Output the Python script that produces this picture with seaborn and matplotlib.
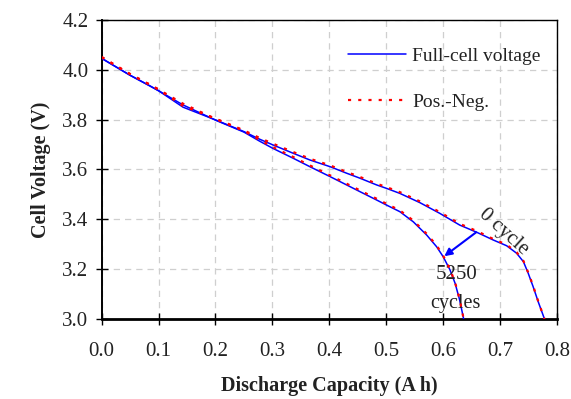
import matplotlib
matplotlib.use("Agg")
import matplotlib.pyplot as plt
import seaborn as sns
import pandas as pd

# ---- data ----
cap_0 = [0.0, 0.05, 0.085, 0.1, 0.143, 0.2, 0.25, 0.278, 0.3015, 0.3366, 0.366, 0.4016, 0.4304,
         0.4538, 0.4831, 0.5007, 0.524, 0.559, 0.594, 0.629, 0.659, 0.688, 0.7115, 0.729,
         0.741, 0.7495, 0.758, 0.767, 0.778]
v_full_0 = [4.046, 3.978, 3.935, 3.916, 3.85, 3.799, 3.752, 3.721, 3.698, 3.665, 3.638, 3.611, 3.585,
            3.565, 3.538, 3.524, 3.504, 3.467, 3.424, 3.377, 3.348, 3.317, 3.294, 3.264,
            3.23, 3.183, 3.13, 3.069, 3.0]
v_pn_0 = [4.051, 3.983, 3.94, 3.921, 3.855, 3.804, 3.757, 3.726, 3.703, 3.67, 3.643, 3.616, 3.59,
          3.57, 3.543, 3.529, 3.509, 3.472, 3.429, 3.382, 3.353, 3.321, 3.298, 3.268,
          3.233, 3.186, 3.133, 3.071, 3.0]

cap_5250 = [0.0, 0.05, 0.085, 0.1, 0.143, 0.2, 0.25, 0.278, 0.3015, 0.3366, 0.366, 0.4016, 0.4304,
            0.4538, 0.4831, 0.5007, 0.524, 0.5475, 0.571, 0.5885, 0.600, 0.612, 0.621,
            0.629, 0.636]
v_full_5250 = [4.046, 3.978, 3.935, 3.916, 3.859, 3.798, 3.75, 3.713, 3.684, 3.645, 3.611, 3.571, 3.538,
               3.511, 3.4775, 3.457, 3.4306, 3.39, 3.337, 3.29, 3.25, 3.197, 3.143,
               3.076, 3.0]
v_pn_5250 = [4.051, 3.983, 3.94, 3.921, 3.864, 3.803, 3.755, 3.718, 3.689, 3.65, 3.616, 3.576, 3.543,
             3.516, 3.4825, 3.462, 3.4356, 3.395, 3.342, 3.295, 3.254, 3.2, 3.146,
             3.078, 3.0]

x_ticks = [0.0, 0.1, 0.2, 0.3, 0.4, 0.5, 0.6, 0.7, 0.8]
y_ticks = [3.0, 3.2, 3.4, 3.6, 3.8, 4.0, 4.2]

sns.set_theme(style="white")
plt.rcParams['font.family'] = ['Liberation Serif', 'DejaVu Serif']

fig = plt.figure(figsize=(5.71, 3.99), dpi=100)
ax = fig.add_axes([0.178, 0.2005, 0.7975, 0.7495])

df0 = pd.DataFrame({"cap": cap_0, "full": v_full_0, "pn": v_pn_0})
df1 = pd.DataFrame({"cap": cap_5250, "full": v_full_5250, "pn": v_pn_5250})

for i, d in enumerate([df0, df1]):
    sns.lineplot(data=d, x="cap", y="full", ax=ax, color="#0000ff", lw=1.1,
                 sort=False, estimator=None,
                 label="Full-cell voltage" if i == 0 else None, zorder=3)
for i, d in enumerate([df0, df1]):
    sns.lineplot(data=d, x="cap", y="pn", ax=ax, color="#ff0000", lw=1.6,
                 linestyle=(0, (1.4, 3.2)), sort=False, estimator=None,
                 label="Pos.-Neg." if i == 0 else None, zorder=4)

ax.set_xlim(0.0, 0.8)
ax.set_ylim(3.0, 4.2)
ax.set_xticks(x_ticks)
ax.set_yticks(y_ticks)
ax.set_xticklabels([f"{t:.1f}" for t in x_ticks])
ax.set_yticklabels([f"{t:.1f}" for t in y_ticks])

ax.grid(True, color="#cfcfcf", linestyle=(0, (5, 4)), linewidth=0.9)
for s in ["top", "right"]:
    ax.spines[s].set_color("black")
    ax.spines[s].set_linewidth(1.0)
ax.spines["left"].set_color("black")
ax.spines["left"].set_linewidth(1.4)
ax.spines["bottom"].set_color("black")
ax.spines["bottom"].set_linewidth(2.0)

ax.tick_params(axis="x", direction="inout", length=9, width=1.0, pad=12,
               labelsize=15, labelcolor="#222222", colors="black", bottom=True)
ax.tick_params(axis="y", direction="inout", length=9, width=1.0, pad=5,
               labelsize=15, labelcolor="#222222", colors="black", left=True)
for lab in ax.get_xticklabels() + ax.get_yticklabels():
    lab.set_color("#222222")

ax.set_xlabel("Discharge Capacity (A h)", fontsize=14.5, fontweight="bold", labelpad=11, color="#222222")
ax.set_ylabel("Cell Voltage (V)", fontsize=14.5, fontweight="bold", labelpad=8, color="#222222")

leg = ax.legend(loc="upper left", bbox_to_anchor=(0.52, 0.94), frameon=False,
                fontsize=14, handlelength=3.0, handletextpad=0.3, labelspacing=1.45,
                borderpad=0.0)
for t in leg.get_texts():
    t.set_color("#222222")

ax.annotate("", xy=(0.602, 3.252), xytext=(0.658, 3.348),
            arrowprops=dict(arrowstyle="-|>", color="#0000ff", lw=1.5,
                            mutation_scale=11, shrinkA=0, shrinkB=0), zorder=5)
ax.text(0.7055, 3.35, "0 cycle", rotation=-42, fontsize=15, color="#222222",
        ha="center", va="center", rotation_mode="anchor")
ax.text(0.6237, 3.177, "5250", fontsize=15, color="#222222", ha="center", va="center")
ax.text(0.622, 3.063, "cycles", fontsize=14.5, color="#222222", ha="center", va="center")

fig.savefig("out.png", dpi=100)
